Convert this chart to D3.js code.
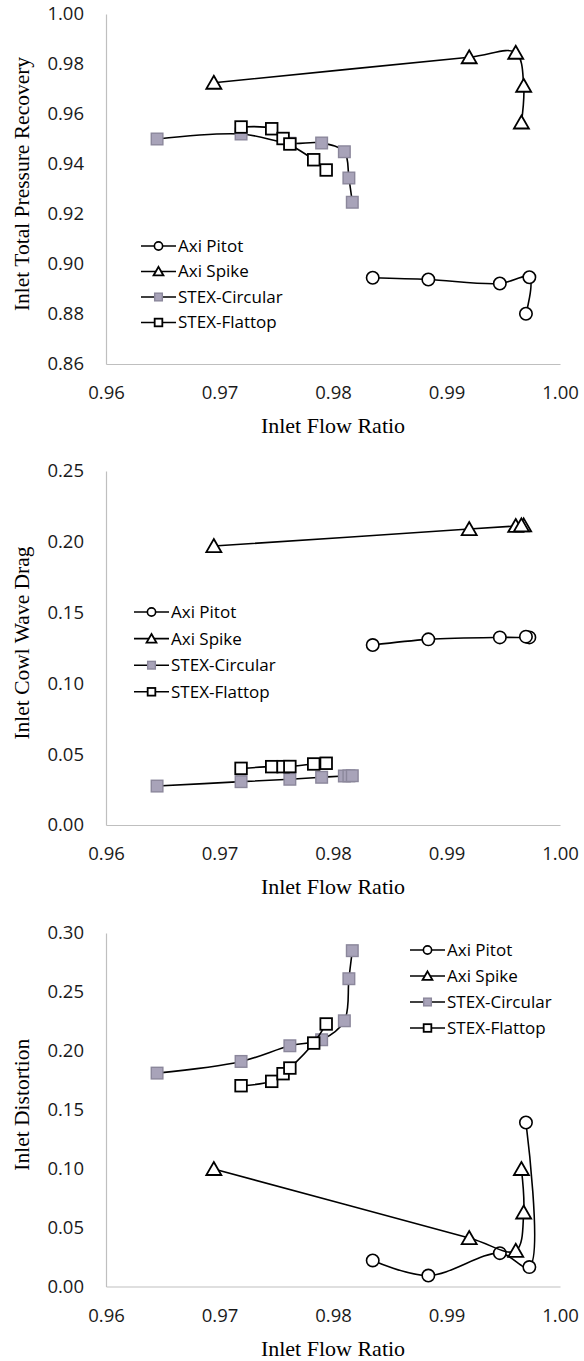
<!DOCTYPE html>
<html>
<head>
<meta charset="utf-8">
<script src="https://cdn.jsdelivr.net/npm/d3@7"></script>
<style>
  body { margin: 0; background: #fff; }
  svg { display: block; }
</style>
</head>
<body>
<div id="chart"></div>
<script>
// inlet flow ratio (x) for each configuration
const flowPitot    = [0.9835, 0.9884, 0.9947, 0.9973, 0.9970];
const flowSpike    = [0.9695, 0.9920, 0.9961, 0.9968, 0.9966];
const flowCircular = [0.9645, 0.9719, 0.9762, 0.9790, 0.9810, 0.9814, 0.9817];
const flowFlattop  = [0.9719, 0.9746, 0.9756, 0.9762, 0.9783, 0.9794];

// total pressure recovery
const recoveryPitot    = [0.8945, 0.8938, 0.8922, 0.8947, 0.8801];
const recoverySpike    = [0.9725, 0.9827, 0.9845, 0.9713, 0.9566];
const recoveryCircular = [0.9500, 0.9520, 0.9483, 0.9484, 0.9449, 0.9344, 0.9247];
const recoveryFlattop  = [0.9548, 0.9541, 0.9502, 0.9480, 0.9417, 0.9376];

// cowl wave drag
const dragPitot    = [0.1271, 0.1311, 0.1325, 0.1325, 0.1330];
const dragSpike    = [0.1970, 0.2090, 0.2112, 0.2116, 0.2116];
const dragCircular = [0.0275, 0.0306, 0.0323, 0.0337, 0.0346, 0.0347, 0.0348];
const dragFlattop  = [0.0400, 0.0412, 0.0412, 0.0413, 0.0431, 0.0436];

// distortion
const distortionPitot    = [0.0221, 0.0093, 0.0283, 0.0165, 0.1392];
const distortionSpike    = [0.0997, 0.0411, 0.0303, 0.0628, 0.0997];
const distortionCircular = [0.1811, 0.1910, 0.2043, 0.2094, 0.2255, 0.2612, 0.2850];
const distortionFlattop  = [0.1704, 0.1741, 0.1806, 0.1854, 0.2066, 0.2228];

const seriesNames = ["Axi Pitot", "Axi Spike", "STEX-Circular", "STEX-Flattop"];
const xTicks = [0.96, 0.97, 0.98, 0.99, 1.00];
const recoveryTicks = [0.86, 0.88, 0.90, 0.92, 0.94, 0.96, 0.98, 1.00];
const dragTicks = [0.00, 0.05, 0.10, 0.15, 0.20, 0.25];
const distortionTicks = [0.00, 0.05, 0.10, 0.15, 0.20, 0.25, 0.30];

const width = 584;
const height = 1361;
const left = 106, right = 560;

const svg = d3.select("#chart")
  .append("svg")
  .attr("width", width)
  .attr("height", height);

const x = d3.scaleLinear().domain([0.96, 1.00]).range([left, right]);

const flows = [flowPitot, flowSpike, flowCircular, flowFlattop];
const markers = ["circle", "triangle", "greySquare", "whiteSquare"];

const panels = [
  {title: "Inlet Total Pressure Recovery", ticks: recoveryTicks, top: 14, bottom: 364,
   values: [recoveryPitot, recoverySpike, recoveryCircular, recoveryFlattop],
   legend: {x: 141, y: 246, step: 25.5}},
  {title: "Inlet Cowl Wave Drag", ticks: dragTicks, top: 471, bottom: 825,
   values: [dragPitot, dragSpike, dragCircular, dragFlattop],
   legend: {x: 134, y: 612, step: 26.6}},
  {title: "Inlet Distortion", ticks: distortionTicks, top: 933, bottom: 1286.5,
   values: [distortionPitot, distortionSpike, distortionCircular, distortionFlattop],
   legend: {x: 410, y: 950, step: 26}}
];

function drawMarker(sel, kind, s) {
  // s = scale factor, 1 for plot markers, smaller for legend
  if (kind === "circle") {
    sel.append("circle").attr("r", 6.2 * s)
      .attr("fill", "#fff").attr("stroke", "#000").attr("stroke-width", 1.6);
  } else if (kind === "triangle") {
    sel.append("path")
      .attr("d", `M0,${-7 * s}L${7.5 * s},${6 * s}L${-7.5 * s},${6 * s}Z`)
      .attr("fill", "#fff").attr("stroke", "#000").attr("stroke-width", 1.8)
      .attr("stroke-linejoin", "miter");
  } else {
    const grey = kind === "greySquare";
    sel.append("rect")
      .attr("x", -5.8 * s).attr("y", -5.8 * s)
      .attr("width", 11.6 * s).attr("height", 11.6 * s)
      .attr("fill", grey ? "#a8a3b9" : "#fff")
      .attr("stroke", grey ? "#8b879b" : "#000")
      .attr("stroke-width", grey ? 1.4 : 1.8);
  }
}

panels.forEach(p => {
  const y = d3.scaleLinear().domain(d3.extent(p.ticks)).range([p.bottom, p.top]);
  const g = svg.append("g");

  // axes
  const yAxis = g.append("g")
    .attr("transform", `translate(${left},0)`)
    .call(d3.axisLeft(y).tickValues(p.ticks).tickSize(0).tickPadding(22).tickFormat(d3.format(".2f")));
  const xAxis = g.append("g")
    .attr("transform", `translate(0,${p.bottom})`)
    .call(d3.axisBottom(x).tickValues(xTicks).tickSize(0).tickPadding(22).tickFormat(d3.format(".2f")));

  [yAxis, xAxis].forEach(a => {
    a.select(".domain").attr("stroke", "#bfbfbf").attr("stroke-width", 1.2);
    a.selectAll("text")
      .attr("font-family", "'Open Sans', sans-serif")
      .attr("font-size", 18.5)
      .attr("fill", "#1a1a1a");
  });

  // axis titles
  g.append("text")
    .attr("x", (left + right) / 2)
    .attr("y", p.bottom + 69)
    .attr("text-anchor", "middle")
    .attr("font-family", "'Liberation Serif', serif")
    .attr("font-size", 22)
    .text("Inlet Flow Ratio");

  g.append("text")
    .attr("transform", `translate(29,${(p.top + p.bottom) / 2 - 5}) rotate(-90)`)
    .attr("text-anchor", "middle")
    .attr("font-family", "'Liberation Serif', serif")
    .attr("font-size", 21.5)
    .text(p.title);

  // series
  const line = d3.line()
    .x(d => x(d[0]))
    .y(d => y(d[1]))
    .curve(d3.curveCatmullRom.alpha(0.5));

  p.values.forEach((vals, i) => {
    const pts = flows[i].map((f, k) => [f, vals[k]]);
    g.append("path")
      .datum(pts)
      .attr("fill", "none")
      .attr("stroke", "#000")
      .attr("stroke-width", 1.6)
      .attr("d", line);

    g.selectAll(null)
      .data(pts)
      .join("g")
      .attr("transform", d => `translate(${x(d[0])},${y(d[1])})`)
      .each(function () { drawMarker(d3.select(this), markers[i], 1); });
  });

  // legend
  const leg = g.append("g").attr("transform", `translate(${p.legend.x},${p.legend.y})`);
  seriesNames.forEach((name, i) => {
    const row = leg.append("g").attr("transform", `translate(0,${i * p.legend.step})`);
    row.append("line")
      .attr("x1", 0).attr("x2", 35).attr("y1", 0).attr("y2", 0)
      .attr("stroke", "#000").attr("stroke-width", 1.6);
    const m = row.append("g").attr("transform", "translate(17.5,0)");
    drawMarker(m, markers[i], 0.66);
    row.append("text")
      .attr("x", 37)
      .attr("y", 0)
      .attr("dy", "0.35em")
      .attr("font-family", "'Open Sans', sans-serif")
      .attr("font-size", 17)
      .attr("fill", "#000")
      .text(name);
  });
});
</script>
</body>
</html>
